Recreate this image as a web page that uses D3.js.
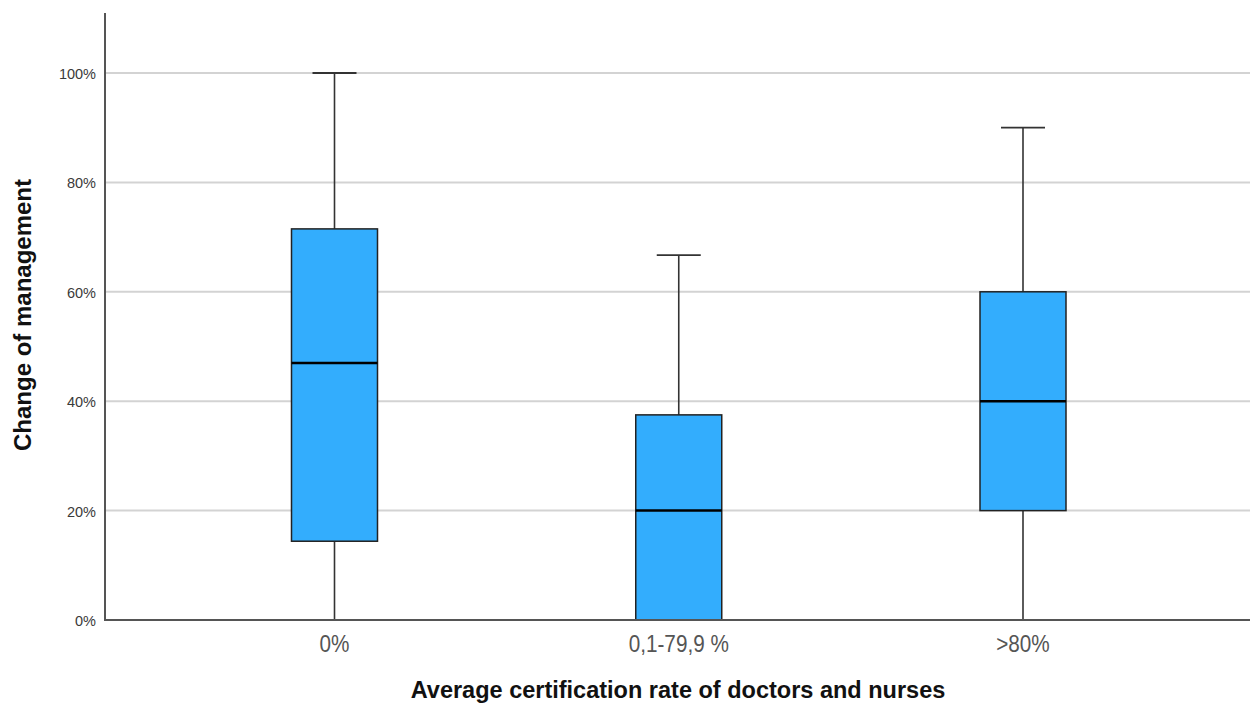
<!DOCTYPE html>
<html>
<head>
<meta charset="utf-8">
<script src="https://cdn.jsdelivr.net/npm/d3@7"></script>
<style>
  body { margin: 0; background: #fff; }
  svg { display: block; font-family: Arial, "Liberation Sans", sans-serif; }
</style>
</head>
<body>
<div id="container"></div>
<script>
let w = 1250;
let h = 704;

// data (percent)
let categories = ["0%", "0,1-79,9 %", ">80%"];
let whiskerLow = [0, 0, 0];
let q1 = [14.4, 0, 20];
let median = [47, 20, 40];
let q3 = [71.5, 37.5, 60];
let whiskerHigh = [100, 66.7, 90];
let yTicks = [0, 20, 40, 60, 80, 100];

let boxes = categories.map(function(c, i) {
  return {cat: c, lo: whiskerLow[i], q1: q1[i], med: median[i], q3: q3[i], hi: whiskerHigh[i]};
});

let x = d3.scalePoint().domain(categories).range([334.5, 1023]);
let y = d3.scaleLinear().domain([0, 100]).range([620, 73]);

let boxW = 86;
let capW = 44;

let viz = d3.select("#container")
  .append("svg")
  .attr("width", w)
  .attr("height", h);

// gridlines
viz.selectAll(".grid").data(yTicks.filter(function(t) { return t > 0; })).enter()
  .append("line")
  .attr("class", "grid")
  .attr("x1", 106)
  .attr("x2", w)
  .attr("y1", function(d) { return y(d); })
  .attr("y2", function(d) { return y(d); })
  .attr("stroke", "#d3d3d3")
  .attr("stroke-width", 2);

// y tick labels
viz.selectAll(".ytick").data(yTicks).enter()
  .append("text")
  .attr("class", "ytick")
  .attr("x", 96)
  .attr("y", function(d) { return y(d) + 6; })
  .attr("text-anchor", "end")
  .attr("font-size", 14.5)
  .attr("fill", "#3a3a3a")
  .text(function(d) { return d + "%"; });

let bx = viz.selectAll(".box").data(boxes).enter()
  .append("g")
  .attr("class", "box")
  .attr("transform", function(d) { return "translate(" + x(d.cat) + ",0)"; });

// whiskers
bx.filter(function(d) { return d.hi > d.q3; })
  .append("line")
  .attr("x1", 0).attr("x2", 0)
  .attr("y1", function(d) { return y(d.hi); })
  .attr("y2", function(d) { return y(d.q3); })
  .attr("stroke", "#333").attr("stroke-width", 1.6);
bx.filter(function(d) { return d.hi > d.q3; })
  .append("line")
  .attr("x1", -capW / 2).attr("x2", capW / 2)
  .attr("y1", function(d) { return y(d.hi); })
  .attr("y2", function(d) { return y(d.hi); })
  .attr("stroke", "#333").attr("stroke-width", 1.8);
bx.filter(function(d) { return d.q1 > d.lo; })
  .append("line")
  .attr("x1", 0).attr("x2", 0)
  .attr("y1", function(d) { return y(d.q1); })
  .attr("y2", function(d) { return y(d.lo); })
  .attr("stroke", "#333").attr("stroke-width", 1.6);

// boxes
bx.append("rect")
  .attr("x", -boxW / 2)
  .attr("y", function(d) { return y(d.q3); })
  .attr("width", boxW)
  .attr("height", function(d) { return y(d.q1) - y(d.q3); })
  .attr("fill", "#33adfd")
  .attr("stroke", "#222")
  .attr("stroke-width", 1.5);

// medians
bx.append("line")
  .attr("x1", -boxW / 2).attr("x2", boxW / 2)
  .attr("y1", function(d) { return y(d.med); })
  .attr("y2", function(d) { return y(d.med); })
  .attr("stroke", "#000").attr("stroke-width", 2.5);

// axes
viz.append("line")
  .attr("x1", 105).attr("x2", 105)
  .attr("y1", 13).attr("y2", 621)
  .attr("stroke", "#555").attr("stroke-width", 2);
viz.append("line")
  .attr("x1", 104).attr("x2", w)
  .attr("y1", 620).attr("y2", 620)
  .attr("stroke", "#555").attr("stroke-width", 2);

// x tick labels (slightly narrow face in the original)
viz.selectAll(".xtick").data(categories).enter()
  .append("text")
  .attr("class", "xtick")
  .attr("transform", function(d) { return "translate(" + x(d) + ",652) scale(0.9,1)"; })
  .attr("text-anchor", "middle")
  .attr("font-size", 23)
  .attr("fill", "#555")
  .text(function(d) { return d; });

// axis titles
viz.append("text")
  .attr("x", 678)
  .attr("y", 698)
  .attr("text-anchor", "middle")
  .attr("font-size", 23.5)
  .attr("font-weight", "bold")
  .attr("fill", "#111")
  .text("Average certification rate of doctors and nurses");

viz.append("text")
  .attr("transform", "translate(31,315) rotate(-90)")
  .attr("text-anchor", "middle")
  .attr("font-size", 24)
  .attr("font-weight", "bold")
  .attr("fill", "#111")
  .text("Change of management");
</script>
</body>
</html>
